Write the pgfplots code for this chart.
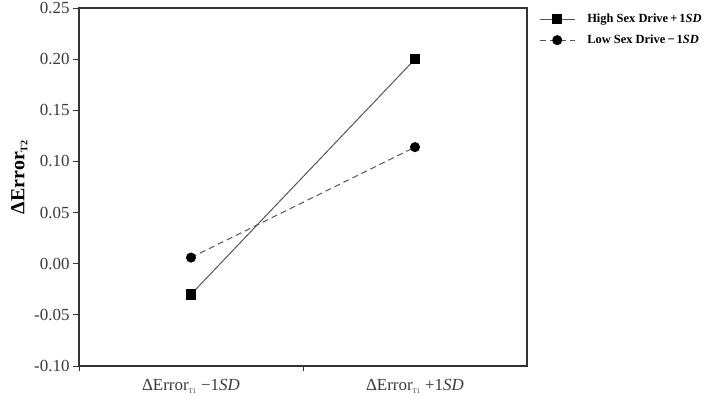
\documentclass[border=0pt]{standalone}
\usepackage{fontspec}
\setmainfont{Liberation Serif}
\usepackage{pgfplots}
\pgfplotsset{compat=1.18}
\definecolor{axgray}{HTML}{333333}
\definecolor{txtgray}{HTML}{3A3A3A}
\definecolor{lngray}{HTML}{555555}
\begin{document}
\begin{tikzpicture}
\path[use as bounding box] (-79bp,-30bp) rectangle (629bp,366bp);
\begin{axis}[
  at={(0,0)}, anchor=south west,
  scale only axis, width=448bp, height=358bp,
  xmin=-0.5, xmax=1.5, ymin=-0.10, ymax=0.25,
  axis line style={axgray, line width=1.3pt},
  every tick/.style={axgray, line width=0.9pt},
  tick align=outside,
  xtick pos=bottom, ytick pos=left,
  xtick={0,1},
  xticklabels={{ΔError\textsubscript{\scriptsize T1} −1\textit{SD}},{ΔError\textsubscript{\scriptsize T1} +1\textit{SD}}},
  x tick label style={yshift=-4bp},
  xtick style={draw=none},
  extra x ticks={-0.5,0.5},
  extra x tick labels={,},
  extra x tick style={major tick length=5bp, xtick style={draw=axgray}},
  ytick={-0.10,-0.05,0,0.05,0.10,0.15,0.20,0.25},
  major tick length=6bp,
  /pgf/number format/assume math mode=true,
  yticklabel style={/pgf/number format/.cd, fixed, fixed zerofill, precision=2},
  tick label style={font=\fontsize{17}{20}\selectfont, text=txtgray},
  ylabel={\textbf{ΔError\textsubscript{\normalsize T2}}},
  ylabel style={font=\fontsize{20}{24}\selectfont, text=black, xshift=10bp},
  legend style={at={(1.02,0.995)}, anchor=north west, draw=none, fill=none,
    font=\fontsize{12.5}{15}\selectfont\bfseries, row sep=7bp, column sep=10bp},
  legend cell align=left,
  legend image code/.code={\draw[mark repeat=2, mark phase=2, #1] plot coordinates {(0cm,0cm) (0.62cm,0cm) (1.24cm,0cm)};},
  clip=false,
]
\addplot[lngray, line width=1pt, mark=square*, mark size=4.75bp, mark options={solid, fill=black, draw=black}]
  coordinates {(0,-0.030) (1,0.200)};
\addlegendentry{High Sex Drive\,+\,1\textit{SD}}
\addplot[lngray, line width=1pt, dash pattern=on 6bp off 4bp, mark=*, mark size=4.5bp, mark options={solid, fill=black, draw=black}]
  coordinates {(0,0.006) (1,0.114)};
\addlegendentry{Low Sex Drive\,−\,1\textit{SD}}
\end{axis}
\end{tikzpicture}
\end{document}
